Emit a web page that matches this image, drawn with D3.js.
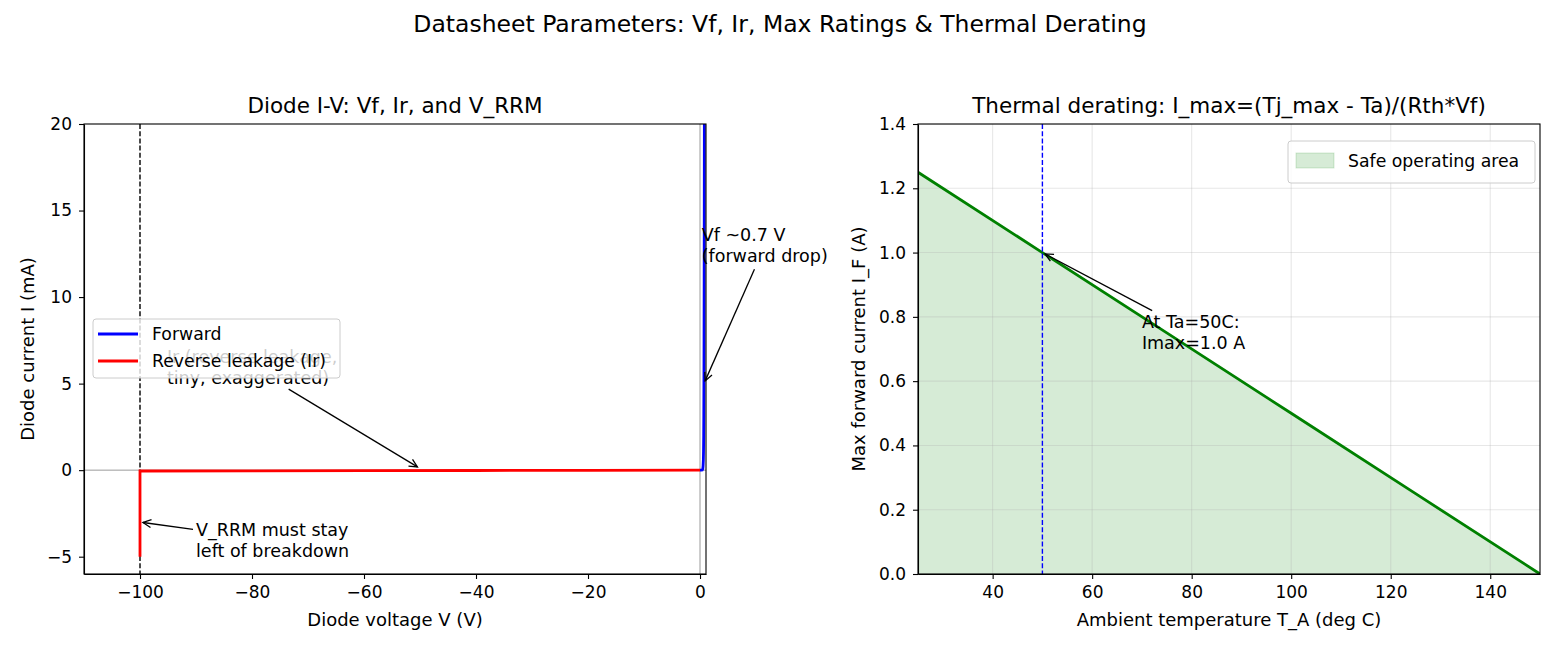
<!DOCTYPE html>
<meta charset="utf-8">
<style>
body { margin: 0; background: #fff; }
text { font-family: "DejaVu Sans", sans-serif; fill: #000; }
.axis path, .axis line { stroke: #000; stroke-width: 1.1px; }
.axis text { font-size: 17px; }
</style>
<svg width="1560" height="650"></svg>
<script src="https://d3js.org/d3.v7.min.js"></script>
<script>
// forward branch, voltage (V) and current (mA)
var fwdV = [0, 0.2, 0.4, 0.5, 0.55, 0.6, 0.63, 0.66, 0.68, 0.7, 0.72, 0.74, 0.76, 0.78, 0.8];
var fwdI = [0, 0.0005, 0.01, 0.08, 0.25, 0.6, 1.1, 2.0, 3.2, 5.0, 7.5, 11, 15.5, 21, 28];
// reverse branch with breakdown at -100 V
var revV = [-100, -100, -80, -60, -40, -20, 0];
var revI = [-5, -0.05, -0.04, -0.03, -0.02, -0.01, 0];
var vrrm = -100;
var leftXTicks = [-100, -80, -60, -40, -20, 0];
var leftYTicks = [-5, 0, 5, 10, 15, 20];

// thermal derating
var ambient = [25, 50, 75, 100, 125, 150];
var imax = [1.25, 1.0, 0.75, 0.5, 0.25, 0];
var taMark = 50;
var rightXTicks = [40, 60, 80, 100, 120, 140];
var rightYTicks = [0, 0.2, 0.4, 0.6, 0.8, 1.0, 1.2, 1.4];

var svg = d3.select("svg");
var fmtMinus = function(d) { return String(d).replace("-", "\u2212"); };

svg.append("text").attr("x", 780).attr("y", 32).attr("text-anchor", "middle")
    .style("font-size", "23.5px").text("Datasheet Parameters: Vf, Ir, Max Ratings & Thermal Derating");

var defs = svg.append("defs");

// arrow annotation: text with last-line baseline at (x, y), arrow to (tx, ty)
function annotate(g, x, y, lines, tx, ty) {
  var lh = 21;
  var t = g.append("text").style("font-size", "17.5px");
  lines.forEach(function(s, i) {
    t.append("tspan").attr("x", x).attr("y", y - (lines.length - 1 - i) * lh).text(s);
  });
  var b = t.node().getBBox();
  var cx = b.x + b.width / 2, cy = b.y + b.height / 2;
  var dx = tx - cx, dy = ty - cy;
  var k = Math.min(dx ? (b.width / 2) / Math.abs(dx) : 1e9, dy ? (b.height / 2) / Math.abs(dy) : 1e9);
  var sx = cx + k * dx, sy = cy + k * dy;
  var len = Math.hypot(tx - sx, ty - sy), ux = (tx - sx) / len, uy = (ty - sy) / len;
  sx += ux * 3; sy += uy * 3;
  var ex = tx - ux * 3, ey = ty - uy * 3;
  g.append("line").attr("x1", sx).attr("y1", sy).attr("x2", ex).attr("y2", ey)
      .attr("stroke", "#000").attr("stroke-width", 1.3);
  var L = 9, a = 0.45;
  function rot(s) {
    var c = Math.cos(s * a), n = Math.sin(s * a);
    return [ex - L * (ux * c - uy * n), ey - L * (ux * n + uy * c)];
  }
  var p1 = rot(1), p2 = rot(-1);
  g.append("path").attr("d", "M" + p1 + "L" + ex + "," + ey + "L" + p2)
      .attr("fill", "none").attr("stroke", "#000").attr("stroke-width", 1.3);
}

// ---------- left panel ----------
var L = { x0: 84, x1: 706, y0: 124, y1: 574 };
var xL = d3.scaleLinear().domain([-110, 1.07]).range([L.x0, L.x1]);
var yL = d3.scaleLinear().domain([-6, 20]).range([L.y1, L.y0]);

defs.append("clipPath").attr("id", "clipL").append("rect")
    .attr("x", L.x0).attr("y", L.y0).attr("width", L.x1 - L.x0).attr("height", L.y1 - L.y0);

var gl = svg.append("g");
var pl = gl.append("g").attr("clip-path", "url(#clipL)");
pl.append("line").attr("x1", L.x0).attr("x2", L.x1).attr("y1", yL(0)).attr("y2", yL(0))
    .attr("stroke", "gray").attr("stroke-width", 0.8);
pl.append("line").attr("x1", xL(0)).attr("x2", xL(0)).attr("y1", L.y0).attr("y2", L.y1)
    .attr("stroke", "gray").attr("stroke-width", 0.8);
pl.append("line").attr("x1", xL(vrrm)).attr("x2", xL(vrrm)).attr("y1", L.y0).attr("y2", L.y1)
    .attr("stroke", "#000").attr("stroke-width", 1.4).attr("stroke-dasharray", "5,2.2");

var lineL = d3.line().x(function(d) { return xL(d[0]); }).y(function(d) { return yL(d[1]); });
pl.append("path").datum(d3.zip(revV, revI)).attr("d", lineL)
    .attr("fill", "none").attr("stroke", "red").attr("stroke-width", 2.8);
pl.append("path").datum(d3.zip(fwdV, fwdI)).attr("d", lineL)
    .attr("fill", "none").attr("stroke", "blue").attr("stroke-width", 2.8);

gl.append("g").attr("class", "axis").attr("transform", "translate(0," + L.y1 + ")")
    .call(d3.axisBottom(xL).tickValues(leftXTicks).tickFormat(fmtMinus).tickSizeOuter(0).tickSizeInner(5).tickPadding(7));
gl.append("g").attr("class", "axis").attr("transform", "translate(" + L.x0 + ",0)")
    .call(d3.axisLeft(yL).tickValues(leftYTicks).tickFormat(fmtMinus).tickSizeOuter(0).tickSizeInner(5).tickPadding(7));
gl.append("rect").attr("x", L.x0).attr("y", L.y0).attr("width", L.x1 - L.x0).attr("height", L.y1 - L.y0)
    .attr("fill", "none").attr("stroke", "#000").attr("stroke-width", 1.1);

gl.append("text").attr("x", (L.x0 + L.x1) / 2).attr("y", 113).attr("text-anchor", "middle")
    .style("font-size", "21.5px").text("Diode I-V: Vf, Ir, and V_RRM");
gl.append("text").attr("x", (L.x0 + L.x1) / 2).attr("y", 626).attr("text-anchor", "middle")
    .style("font-size", "18px").text("Diode voltage V (V)");
gl.append("text").attr("transform", "translate(34," + (L.y0 + L.y1) / 2 + ") rotate(-90)")
    .attr("text-anchor", "middle").style("font-size", "18px").text("Diode current I (mA)");

annotate(gl, xL(0.3), yL(12), ["Vf ~0.7 V", "(forward drop)"], xL(0.7), yL(5));
annotate(gl, xL(-95.2), yL(5), ["Ir (reverse leakage,", "tiny, exaggerated)"], xL(-50), yL(0.1));
annotate(gl, xL(-90), yL(-5), ["V_RRM must stay", "left of breakdown"], xL(-100), yL(-3));

// legend
var lg = gl.append("g");
lg.append("rect").attr("x", 93).attr("y", 319).attr("width", 247).attr("height", 59).attr("rx", 3)
    .attr("fill", "#fff").attr("fill-opacity", 0.8).attr("stroke", "#ccc");
[["Forward", "blue", 334], ["Reverse leakage (Ir)", "red", 361]].forEach(function(e) {
  lg.append("line").attr("x1", 98).attr("x2", 138).attr("y1", e[2]).attr("y2", e[2])
      .attr("stroke", e[1]).attr("stroke-width", 2.8);
  lg.append("text").attr("x", 152).attr("y", e[2] + 6).style("font-size", "17.3px").text(e[0]);
});

// ---------- right panel ----------
var R = { x0: 918, x1: 1540, y0: 124, y1: 574 };
var xR = d3.scaleLinear().domain([25, 150]).range([R.x0, R.x1]);
var yR = d3.scaleLinear().domain([0, 1.4]).range([R.y1, R.y0]);
var gr = svg.append("g");

defs.append("clipPath").attr("id", "clipR").append("rect")
    .attr("x", R.x0).attr("y", R.y0).attr("width", R.x1 - R.x0).attr("height", R.y1 - R.y0);
var pr = gr.append("g").attr("clip-path", "url(#clipR)");

var derate = d3.zip(ambient, imax);
pr.append("path").datum(derate)
    .attr("d", d3.area().x(function(d) { return xR(d[0]); }).y0(yR(0)).y1(function(d) { return yR(d[1]); }))
    .attr("fill", "green").attr("fill-opacity", 0.16);

rightXTicks.forEach(function(t) {
  pr.append("line").attr("x1", xR(t)).attr("x2", xR(t)).attr("y1", R.y0).attr("y2", R.y1)
      .attr("stroke", "#b0b0b0").attr("stroke-opacity", 0.3).attr("stroke-width", 1.1);
});
rightYTicks.forEach(function(t) {
  pr.append("line").attr("x1", R.x0).attr("x2", R.x1).attr("y1", yR(t)).attr("y2", yR(t))
      .attr("stroke", "#b0b0b0").attr("stroke-opacity", 0.3).attr("stroke-width", 1.1);
});

pr.append("path").datum(derate)
    .attr("d", d3.line().x(function(d) { return xR(d[0]); }).y(function(d) { return yR(d[1]); }))
    .attr("fill", "none").attr("stroke", "green").attr("stroke-width", 2.8);
pr.append("line").attr("x1", xR(taMark)).attr("x2", xR(taMark)).attr("y1", R.y0).attr("y2", R.y1)
    .attr("stroke", "blue").attr("stroke-width", 1.4).attr("stroke-dasharray", "5,2.2");

gr.append("g").attr("class", "axis").attr("transform", "translate(0," + R.y1 + ")")
    .call(d3.axisBottom(xR).tickValues(rightXTicks).tickSizeOuter(0).tickSizeInner(5).tickPadding(7));
gr.append("g").attr("class", "axis").attr("transform", "translate(" + R.x0 + ",0)")
    .call(d3.axisLeft(yR).tickValues(rightYTicks).tickFormat(d3.format(".1f")).tickSizeOuter(0).tickSizeInner(5).tickPadding(7));
gr.append("rect").attr("x", R.x0).attr("y", R.y0).attr("width", R.x1 - R.x0).attr("height", R.y1 - R.y0)
    .attr("fill", "none").attr("stroke", "#000").attr("stroke-width", 1.1);

gr.append("text").attr("x", (R.x0 + R.x1) / 2).attr("y", 113).attr("text-anchor", "middle")
    .style("font-size", "21.5px").text("Thermal derating: I_max=(Tj_max - Ta)/(Rth*Vf)");
gr.append("text").attr("x", (R.x0 + R.x1) / 2).attr("y", 626).attr("text-anchor", "middle")
    .style("font-size", "18px").text("Ambient temperature T_A (deg C)");
gr.append("text").attr("transform", "translate(865," + (R.y0 + R.y1) / 2 + ") rotate(-90)")
    .attr("text-anchor", "middle").style("font-size", "18px").text("Max forward current I_F (A)");

annotate(gr, xR(70), yR(0.7), ["At Ta=50C:", "Imax=1.0 A"], xR(taMark), yR(1.0));

var rg = gr.append("g");
rg.append("rect").attr("x", 1288).attr("y", 141).attr("width", 247).attr("height", 42).attr("rx", 3)
    .attr("fill", "#fff").attr("fill-opacity", 0.8).attr("stroke", "#ccc");
rg.append("rect").attr("x", 1296).attr("y", 153).attr("width", 38).attr("height", 15)
    .attr("fill", "green").attr("fill-opacity", 0.16).attr("stroke", "green").attr("stroke-opacity", 0.16);
rg.append("text").attr("x", 1348).attr("y", 167).style("font-size", "17.3px").text("Safe operating area");
</script>
